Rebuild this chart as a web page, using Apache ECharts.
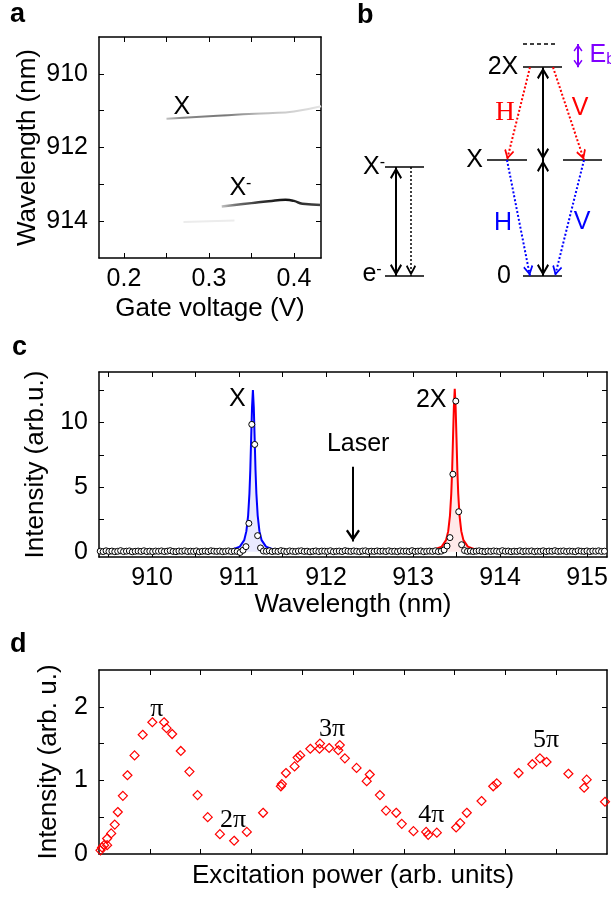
<!DOCTYPE html>
<html>
<head>
<meta charset="utf-8">
<script src="https://cdn.jsdelivr.net/npm/echarts@6/dist/echarts.min.js"></script>
<style>
  html, body { margin: 0; padding: 0; background: #fff; }
  #chart { width: 611px; height: 898px; }
</style>
</head>
<body>
<div id="chart"></div>
<script>
// ---- panel a: gate voltage map (traces)
const xTraceGate = [0.25, 0.28, 0.31, 0.34, 0.37, 0.40, 0.432];
const xTraceWl = [911.22, 911.18, 911.14, 911.10, 911.07, 911.02, 910.88];
const xmTraceGate = [0.315, 0.33, 0.35, 0.37, 0.39, 0.40, 0.41, 0.432];
const xmTraceWl = [913.60, 913.56, 913.51, 913.46, 913.42, 913.45, 913.53, 913.56];
const faintGate = [0.27, 0.30, 0.33];
const faintWl = [914.02, 914.00, 913.98];
const gateTicks = [0.2, 0.25, 0.3, 0.35, 0.4];
const gateLabels = [0.2, 0.3, 0.4];
const wlTicksA = [910, 911, 912, 913, 914];
const wlLabelsA = [910, 912, 914];
const aAnnGate = [0.268, 0.337];
const aAnnWl = [910.9, 913.1];
const aAnnText = ['X', 'X^-'];

// ---- panel b: level scheme (x in px across the panel, y in units of the X energy)
const levelX1 = [85, 85, 223, 187, 263, 223];
const levelX2 = [124, 124, 262, 227, 302, 262];
const levelE = [0, 0.94, 0, 1.0, 1.0, 1.8];
const dashedLevel = [223, 257, 2.0];
const doubleArrows = [[96, 0, 96, 0.94], [243, 0, 243, 1.0], [243, 1.0, 243, 1.8]];
const dottedDown = [[111, 0.94, 111, 0]];
const redArrows = [[230, 1.8, 207, 1.0], [253, 1.8, 284, 1.0]];
const blueArrows = [[207, 1.0, 230, 0], [284, 1.0, 255, 0]];
const ebArrow = [278, 2.0, 278, 1.8];
const bNameText = ['X^-', 'e^-', '2X', 'X', '0'];
const bNameX = [74, 72, 203, 174.5, 204];
const bNameY = [0.94, 0.02, 1.8, 1.0, 0];

// ---- panel c: spectrum
const specStartNm = 909.405;
const specStepNm = 0.0335;
const specIntensity = [
  0.05,0.02,0.08,0.03,0.06,0.01,0.04,0.09,0.02,0.05,0.07,0.00,0.04,0.06,0.03,0.08,0.02,0.05,0.01,0.06,
  0.04,0.07,0.02,0.05,0.09,0.03,0.01,0.06,0.04,0.08,0.02,0.05,0.03,0.07,0.00,0.04,0.06,0.02,0.08,0.05,
  0.03,0.06,0.01,0.04,0.07,0.02,0.05,0.03,
  -0.05,0.12,0.40,2.20,9.85,8.30,1.25,0.30,0.06,
  0.04,0.08,0.02,0.06,0.03,0.09,0.05,0.01,0.07,0.04,0.02,0.06,0.08,0.03,0.05,0.00,0.04,0.07,0.02,0.06,
  0.05,0.03,0.08,0.01,0.04,0.06,0.02,0.09,0.05,0.03,0.07,0.04,0.01,0.06,0.08,0.02,0.05,0.03,0.07,0.04,
  0.06,0.02,0.08,0.03,0.05,0.01,0.07,0.04,0.06,0.02,0.09,0.03,0.05,0.07,0.01,0.04,0.06,0.03,0.08,0.02,
  0.05,0.15,0.45,1.10,6.00,11.65,3.10,0.55,0.10,
  0.03,0.06,0.02,0.05,0.08,0.04,0.01,0.06,0.03,0.07,0.05,0.02,0.09,0.04,0.06,0.01,0.05,0.03,0.08,0.02,
  0.06,0.04,0.07,0.01,0.05,0.03,0.08,0.02,0.06,0.04,0.09,0.03,0.05,0.07,0.02,0.06,0.04,0.01,0.08,0.05,
  0.03,0.07,0.02,0.06,0.04,0.08,0.03,0.05
];
const xFitNm = [909.39,910.66,910.91,911.01,911.06,911.085,911.105,911.12,911.13,911.14,911.15,911.16,
  911.17,911.18,911.19,911.20,911.215,911.235,911.26,911.31,911.41,911.66,912.33];
const xFitVal = [0.01,0.04,0.15,0.4,0.9,1.6,2.8,4.5,6.3,8.8,11.2,12.5,
  11.2,8.8,6.3,4.5,2.8,1.6,0.9,0.4,0.15,0.04,0.01];
const bxFitNm = [912.33,912.98,913.23,913.33,913.38,913.405,913.425,913.44,913.45,913.46,913.47,913.48,
  913.49,913.50,913.51,913.52,913.535,913.555,913.58,913.63,913.73,913.98,915.23];
const bxFitVal = [0.01,0.04,0.15,0.4,0.9,1.6,2.8,4.5,6.3,8.8,11.2,12.6,
  11.2,8.8,6.3,4.5,2.8,1.6,0.9,0.4,0.15,0.04,0.01];
const wlTicksC = [909.5,910,910.5,911,911.5,912,912.5,913,913.5,914,914.5,915];
const wlLabelsC = [910, 911, 912, 913, 914, 915];
const intTicksC = [0, 2.5, 5, 7.5, 10, 12.5];
const intLabelsC = [0, 5, 10];
const cAnnNm = [910.98, 913.21, 912.37];
const cAnnVal = [11.83, 11.75, 8.3];
const cAnnText = ['X', '2X', 'Laser'];
const laserArrow = [912.31, 6.57, 912.31, 0.8];

// ---- panel d: Rabi oscillation
const powerX = [0.03,0.06,0.10,0.16,0.16,0.24,0.31,0.37,0.47,0.56,0.70,0.86,1.05,1.28,1.33,1.44,1.61,1.78,1.94,
  2.14,2.38,2.66,2.91,3.23,3.58,3.60,3.68,3.85,3.91,3.96,4.16,4.34,4.35,4.53,4.71,4.74,4.84,5.07,5.27,5.33,
  5.53,5.65,5.85,5.96,6.19,6.44,6.48,6.65,7.03,7.11,7.24,7.53,7.76,7.83,8.26,8.53,8.68,8.81,9.24,9.55,9.60,9.96];
const powerY = [0.05,0.09,0.12,0.12,0.21,0.28,0.40,0.57,0.79,1.07,1.34,1.62,1.79,1.79,1.71,1.63,1.40,1.12,0.80,
  0.50,0.27,0.18,0.30,0.56,0.92,0.95,1.10,1.19,1.31,1.34,1.43,1.43,1.50,1.44,1.41,1.48,1.30,1.17,0.99,1.08,
  0.80,0.59,0.56,0.41,0.31,0.30,0.26,0.29,0.36,0.42,0.56,0.72,0.92,0.96,1.10,1.22,1.30,1.25,1.09,0.90,1.01,0.71];
const powerTicks = [1, 2, 3, 4, 5, 6, 7, 8, 9];
const intTicksD = [0.5, 1, 1.5, 2];
const intLabelsD = [0, 1, 2];
const piText = ['π', '2π', '3π', '4π', '5π'];
const piX = [1.14, 2.64, 4.59, 6.54, 8.80];
const piY = [1.97, 0.46, 1.70, 0.53, 1.54];

const SANS = 'Liberation Sans, Arial, sans-serif';
const SERIF = 'Liberation Serif, Times New Roman, serif';
// open chevron head, tip at the symbol centre
const CHEV = 'path://M5,-11 L5.01,-11 L5,-10.99 Z M5,0 L10,9 L8.7,10.4 L5,3.6 L1.3,10.4 L0,9 Z';

const pairs = (xs, ys) => xs.map((x, i) => [x, ys[i]]);
const rich = s => s.replace(/\^(.)/, '{sup|$1}').replace(/_(.)/, '{sub|$1}');

const chart = echarts.init(document.getElementById('chart'));

const grids = [
  { left: 99, top: 37, width: 222, height: 221 },
  { left: 300, top: 0, width: 311, height: 310 },
  { left: 99, top: 372, width: 508, height: 185 },
  { left: 99, top: 670, width: 508, height: 184 }
];

const xAxes = [];
const yAxes = [];

function boxAxis(dim, gi, range, ticks, labels, name, nameGap, inverse) {
  const list = dim === 'x' ? xAxes : yAxes;
  const main = list.length;
  const sides = dim === 'x' ? ['bottom', 'top'] : ['left', 'right'];
  sides.forEach((pos, k) => {
    list.push({
      type: 'value', gridIndex: gi, position: pos,
      min: range[0], max: range[1], inverse: !!inverse,
      splitLine: { show: false },
      axisLine: { show: true, onZero: false, lineStyle: { color: '#000', width: 1.5 } },
      axisTick: { show: true, inside: true, length: 5, customValues: ticks, lineStyle: { color: '#000', width: 1 } },
      axisLabel: (k === 0 && labels) ? {
        show: true, customValues: labels, fontSize: 25, fontFamily: SANS, color: '#000',
        margin: dim === 'x' ? 9 : 11
      } : { show: false },
      name: k === 0 ? name : '',
      nameLocation: 'middle', nameGap: nameGap,
      nameTextStyle: { fontSize: 26, fontFamily: SANS, color: '#000' }
    });
  });
  return main;
}

// panel a
const axA = {
  x: boxAxis('x', 0, [0.1706, 0.4318], gateTicks, gateLabels, 'Gate voltage (V)', 38),
  y: boxAxis('y', 0, [909, 915], wlTicksA, wlLabelsA, 'Wavelength (nm)', 58, true)
};
// panel b (no visible axes)
xAxes.push({ type: 'value', gridIndex: 1, min: 0, max: 311, show: false });
yAxes.push({ type: 'value', gridIndex: 1, min: -0.293, max: 2.379, show: false });
const axB = { x: xAxes.length - 1, y: yAxes.length - 1 };
// panel c
const axC = {
  x: boxAxis('x', 2, [909.391, 915.23], wlTicksC, wlLabelsC, 'Wavelength (nm)', 35),
  y: boxAxis('y', 2, [-0.4, 13.9], intTicksC, intLabelsC, 'Intensity (arb.u.)', 37)
};
// panel d
const axD = {
  x: boxAxis('x', 3, [0, 10], powerTicks, null, 'Excitation power (arb. units)', 9),
  y: boxAxis('y', 3, [0, 2.5], intTicksD, intLabelsD, 'Intensity (arb. u.)', 37)
};

function textSeries(ax, xs, ys, texts, color, fontSize, fontFamily, position) {
  const tok = size => ({
    fontSize: size, fontFamily: fontFamily, color: color, textBorderWidth: 0, textBorderColor: 'transparent'
  });
  return {
    type: 'scatter', xAxisIndex: ax.x, yAxisIndex: ax.y, silent: true, z: 20,
    symbol: 'circle', symbolSize: 1, itemStyle: { color: 'rgba(0,0,0,0)', opacity: 1 },
    data: xs.map((x, i) => ({ value: [x, ys[i]], label: { formatter: rich(texts[i]) } })),
    label: Object.assign(tok(fontSize), {
      show: true, position: position || 'inside', distance: 0, opacity: 1,
      rich: {
        sup: Object.assign(tok(16), { verticalAlign: 'top' }),
        sub: Object.assign(tok(16), { verticalAlign: 'bottom' })
      }
    })
  };
}

function arrowSeries(segs, color, width, dash, symbol, size, z) {
  return {
    type: 'lines', coordinateSystem: 'cartesian2d', xAxisIndex: axB.x, yAxisIndex: axB.y,
    silent: true, z: z || 5, symbol: symbol, symbolSize: size,
    lineStyle: { color: color, width: width, type: dash || 'solid', opacity: 1 },
    data: segs.map(s => ({ coords: [[s[0], s[1]], [s[2], s[3]]] }))
  };
}

const grayX = new echarts.graphic.LinearGradient(0, 0, 1, 0, [
  { offset: 0, color: '#c8c8c8' }, { offset: 0.12, color: '#888' }, { offset: 0.38, color: '#777' },
  { offset: 0.6, color: '#bbb' }, { offset: 1, color: '#e6e6e6' }
]);
const grayXm = new echarts.graphic.LinearGradient(0, 0, 1, 0, [
  { offset: 0, color: '#d0d0d0' }, { offset: 0.15, color: '#777' }, { offset: 0.4, color: '#333' },
  { offset: 0.65, color: '#111' }, { offset: 0.8, color: '#333' }, { offset: 1, color: '#444' }
]);

const specPoints = specIntensity.map((v, i) => [specStartNm + i * specStepNm, v]);

const series = [
  // a
  { type: 'line', xAxisIndex: axA.x, yAxisIndex: axA.y, data: pairs(faintGate, faintWl), showSymbol: false,
    smooth: true, silent: true, lineStyle: { width: 2, color: '#ececec' } },
  { type: 'line', xAxisIndex: axA.x, yAxisIndex: axA.y, data: pairs(xTraceGate, xTraceWl), showSymbol: false,
    smooth: true, silent: true, lineStyle: { width: 2, color: grayX } },
  { type: 'line', xAxisIndex: axA.x, yAxisIndex: axA.y, data: pairs(xmTraceGate, xmTraceWl), showSymbol: false,
    smooth: true, silent: true, lineStyle: { width: 2.5, color: grayXm } },
  textSeries(axA, aAnnGate, aAnnWl, aAnnText, '#000', 25, SANS),

  // b
  arrowSeries(levelX1.map((x, i) => [x, levelE[i], levelX2[i], levelE[i]]), '#000', 1.5, 'solid', 'none', 1, 3),
  arrowSeries([[dashedLevel[0], dashedLevel[2], dashedLevel[1], dashedLevel[2]]], '#000', 1.5, [4, 3], 'none', 1, 3),
  arrowSeries(doubleArrows, '#000', 2, 'solid', [CHEV, CHEV], [[12, 24], [12, 24]]),
  arrowSeries(dottedDown, '#000', 1.5, [2, 2], ['none', CHEV], [[10, 22], [10, 22]]),
  arrowSeries(redArrows, '#ff0000', 2, [2, 2], ['none', CHEV], [[10, 21], [10, 21]]),
  arrowSeries(blueArrows, '#0000ff', 2, [2, 2], ['none', CHEV], [[10, 21], [10, 21]]),
  arrowSeries([ebArrow], '#8000ff', 2, 'solid', [CHEV, CHEV], [[9, 15], [9, 15]]),
  textSeries(axB, bNameX, bNameY, bNameText, '#000', 25, SANS),
  textSeries(axB, [205], [1.405], ['H'], '#ff0000', 27, SERIF),
  textSeries(axB, [280], [1.45], ['V'], '#ff0000', 25, SANS),
  textSeries(axB, [203, 282], [0.457, 0.466], ['H', 'V'], '#0000ff', 25, SANS),
  textSeries(axB, [289], [1.905], ['E_b'], '#8000ff', 25, SANS, 'right'),

  // c
  { type: 'line', xAxisIndex: axC.x, yAxisIndex: axC.y, data: pairs(xFitNm, xFitVal), showSymbol: false,
    silent: true, z: 3, lineStyle: { width: 2, color: '#0000ff' }, areaStyle: { color: 'rgba(60,60,255,0.16)' } },
  { type: 'line', xAxisIndex: axC.x, yAxisIndex: axC.y, data: pairs(bxFitNm, bxFitVal), showSymbol: false,
    silent: true, z: 3, lineStyle: { width: 2, color: '#ff0000' }, areaStyle: { color: 'rgba(255,60,60,0.16)' } },
  { type: 'scatter', xAxisIndex: axC.x, yAxisIndex: axC.y, data: specPoints, silent: true, z: 6,
    symbol: 'circle', symbolSize: 6, itemStyle: { color: '#fff', borderColor: '#000', borderWidth: 1, opacity: 1 } },
  textSeries(axC, cAnnNm, cAnnVal, cAnnText, '#000', 25, SANS),
  {
    type: 'lines', coordinateSystem: 'cartesian2d', xAxisIndex: axC.x, yAxisIndex: axC.y,
    silent: true, z: 8, symbol: ['none', CHEV], symbolSize: [[14, 24], [14, 24]],
    lineStyle: { color: '#000', width: 2, opacity: 1 },
    data: [{ coords: [[laserArrow[0], laserArrow[1]], [laserArrow[2], laserArrow[3]]] }]
  },

  // d
  { type: 'scatter', xAxisIndex: axD.x, yAxisIndex: axD.y, data: pairs(powerX, powerY), silent: true,
    symbol: 'diamond', symbolSize: 9, clip: false,
    itemStyle: { color: 'rgba(0,0,0,0)', borderColor: '#ff0000', borderWidth: 1.2, opacity: 1 } },
  textSeries(axD, piX, piY, piText, '#000', 26, SERIF)
];

const panelLetters = [['a', 10, 1], ['b', 357, 2], ['c', 12, 334], ['d', 10, 631]];

chart.setOption({
  backgroundColor: '#fff',
  animation: false,
  grid: grids,
  xAxis: xAxes,
  yAxis: yAxes,
  series: series,
  graphic: panelLetters.map(p => ({
    type: 'text', left: p[1], top: p[2],
    style: { text: p[0], fontSize: 27, fontWeight: 'bold', fontFamily: SANS, fill: '#000' }
  }))
});
</script>
</body>
</html>
